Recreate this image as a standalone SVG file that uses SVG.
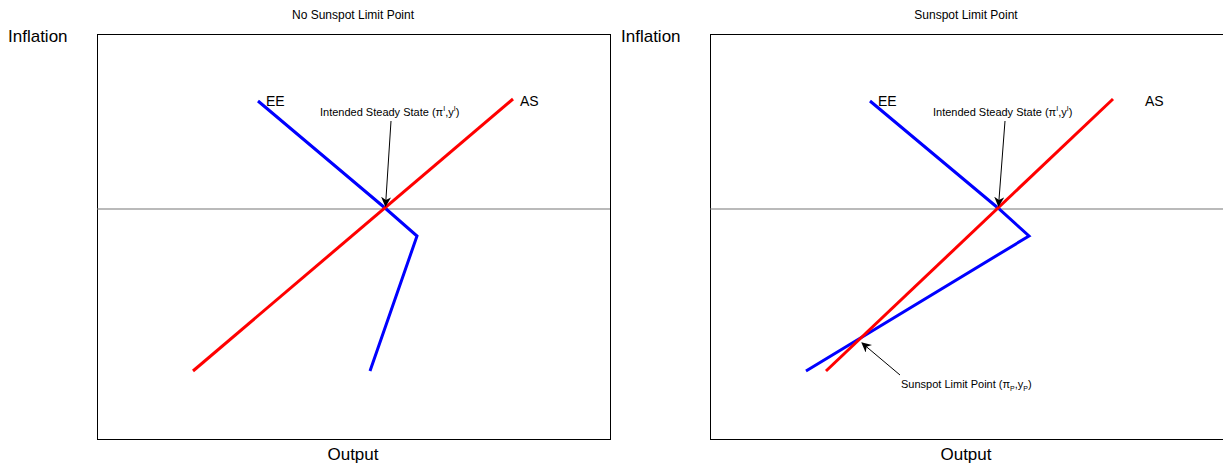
<svg xmlns="http://www.w3.org/2000/svg" width="1223" height="473" viewBox="0 0 1223 473">
<style>
text{font-family:"Liberation Sans",Arial,sans-serif;fill:#000}
.ax{font-size:17px}
.ttl{font-size:12px}
.lbl{font-size:14px}
.ann{font-size:11px}
.box{fill:#fff;stroke:#000;stroke-width:1}
.hz{stroke:#777;stroke-width:1.2}
.ee{fill:none;stroke:#0000ff;stroke-width:3;stroke-linejoin:miter}
.as{fill:none;stroke:#ff0000;stroke-width:3}
.arr{stroke:#000;stroke-width:1;marker-end:url(#ah)}
</style>
<defs>
<marker id="ah" viewBox="0 0 10 10" refX="9" refY="5" markerWidth="10" markerHeight="10" markerUnits="userSpaceOnUse" orient="auto">
<path d="M0,0 L10,5 L0,10 L3,5 Z" fill="#000"/>
</marker>
</defs>
<rect width="1223" height="473" fill="#fff"/>
<g id="panel-left">
<rect class="box" x="97.5" y="34.5" width="513" height="405"/>
<line class="hz" x1="97" y1="209" x2="610" y2="209"/>
<text class="ttl" x="353" y="19" text-anchor="middle">No Sunspot Limit Point</text>
<text class="ax" x="8" y="42">Inflation</text>
<text class="ax" x="353" y="460" text-anchor="middle">Output</text>
</g>
<g id="panel-right">
<rect class="box" x="710.5" y="34.5" width="513" height="405"/>
<line class="hz" x1="710" y1="209" x2="1223" y2="209"/>
<text class="ttl" x="966" y="19" text-anchor="middle">Sunspot Limit Point</text>
<text class="ax" x="621" y="42">Inflation</text>
<text class="ax" x="966" y="460" text-anchor="middle">Output</text>
</g>
<g id="connectors">
<polyline class="ee" points="258,101 385,208 417,236 370,371"/>
<line class="as" x1="193" y1="371" x2="513" y2="99"/>
<line class="arr" x1="391" y1="121" x2="385.5" y2="206"/>
<polyline class="ee" points="870,101 998,208 1029,236 806,371"/>
<line class="as" x1="826" y1="371" x2="1113" y2="99"/>
<line class="arr" x1="1005" y1="121" x2="998.5" y2="206"/>
<line class="arr" x1="900" y1="375" x2="862" y2="343"/>
</g>
<g id="labels">
<text class="lbl" x="266" y="106">EE</text>
<text class="lbl" x="520" y="106">AS</text>
<text class="lbl" x="878" y="106">EE</text>
<text class="lbl" x="1145" y="106">AS</text>
<text class="ann" x="320" y="116">Intended Steady State (π<tspan dy="-5" font-size="7">I</tspan><tspan dy="5">,y</tspan><tspan dy="-5" font-size="7">I</tspan><tspan dy="5">)</tspan></text>
<text class="ann" x="933" y="116">Intended Steady State (π<tspan dy="-5" font-size="7">I</tspan><tspan dy="5">,y</tspan><tspan dy="-5" font-size="7">I</tspan><tspan dy="5">)</tspan></text>
<text class="ann" x="901" y="388">Sunspot Limit Point (π<tspan dy="3" font-size="7">P</tspan><tspan dy="-3">,y</tspan><tspan dy="3" font-size="7">P</tspan><tspan dy="-3">)</tspan></text>
</g>
</svg>
